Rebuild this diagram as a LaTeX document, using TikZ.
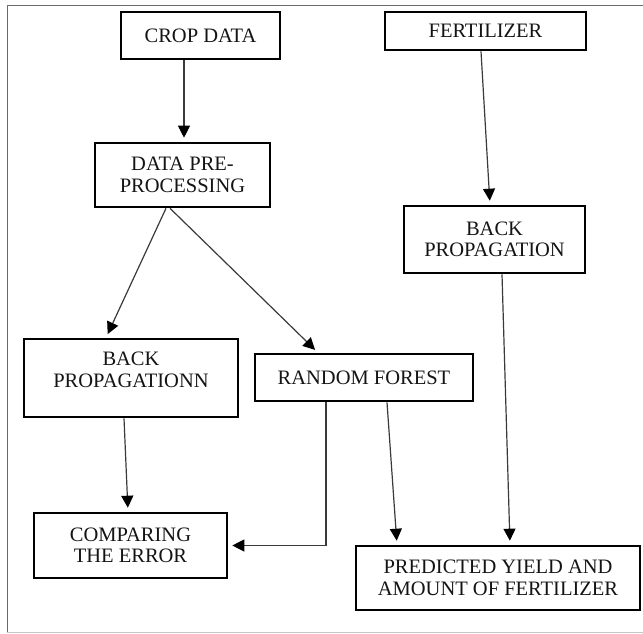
\documentclass[tikz,border=0pt]{standalone}
\usepackage{fontspec}
\setmainfont{Liberation Serif}
\usetikzlibrary{arrows.meta}
\definecolor{ink}{HTML}{141414}
\definecolor{wire}{HTML}{3A3A3A}
\definecolor{framec}{HTML}{6A6A6A}
\tikzset{
  box/.style={draw=black, line width=2.6pt, rectangle, inner sep=0pt, align=center,
    text=ink, font=\fontsize{20.5}{21.5}\selectfont},
  lbl/.style={inner sep=0pt, align=center, text=ink, font=\fontsize{20.5}{21.5}\selectfont},
  conn/.style={draw=wire, line width=1.2pt, -{Triangle[length=12pt,width=12pt,color=black]}, shorten >=4pt},
}
\begin{document}
\begin{tikzpicture}[x=1pt,y=-1pt]
\useasboundingbox (0,0) rectangle (643,634);
% frame
\draw[framec, line width=1pt] (643,6) -- (7,6) -- (7,632);
\draw[gray!45, line width=1pt] (7,632) -- (643,632);
% boxes
\node[box, minimum width=159pt, minimum height=47pt] (crop) at (200.5,35.5) {CROP DATA};
\node[box, minimum width=201pt, minimum height=38pt] (fert) at (485.5,31) {FERTILIZER};
\node[box, minimum width=175pt, minimum height=64pt] (pre) at (182.5,175) {DATA PRE-\\PROCESSING};
\node[box, minimum width=181pt, minimum height=67pt] (bpr) at (494.5,239.5) {BACK\\PROPAGATION};
\node[box, minimum width=214pt, minimum height=78pt,
  label={[lbl, yshift=8pt]center:{BACK\\PROPAGATIONN}}] (bpl) at (131,378) {};
\node[box, minimum width=218pt, minimum height=47pt] (rf) at (364,377.5) {RANDOM FOREST};
\node[box, minimum width=193pt, minimum height=65pt] (cmp) at (130.5,545.5) {COMPARING\\THE ERROR};
\node[box, minimum width=284pt, minimum height=64pt] (pred) at (498,578) {PREDICTED YIELD AND\\AMOUNT OF FERTILIZER};
% connectors
\draw[conn] ([xshift=1.5pt]pre.north |- crop.south) -- ([xshift=1.5pt]pre.north);
\draw[conn] ([xshift=-4.5pt]fert.south) -- ([xshift=-4.5pt]bpr.north);
\draw[conn] ([xshift=-16.5pt]pre.south) -- ([xshift=-25pt]bpl.north);
\draw[conn] ([xshift=-12.5pt]pre.south) -- ([xshift=-46pt]rf.north);
\draw[conn] ([xshift=-7pt]bpl.south) -- ([xshift=-2.5pt]cmp.north);
\draw[conn] ([xshift=-38pt]rf.south) |- (cmp.east);
\draw[conn] ([xshift=23pt]rf.south) -- ([xshift=-101pt]pred.north);
\draw[conn] ([xshift=7.5pt]bpr.south) -- ([xshift=12pt]pred.north);
\end{tikzpicture}
\end{document}
